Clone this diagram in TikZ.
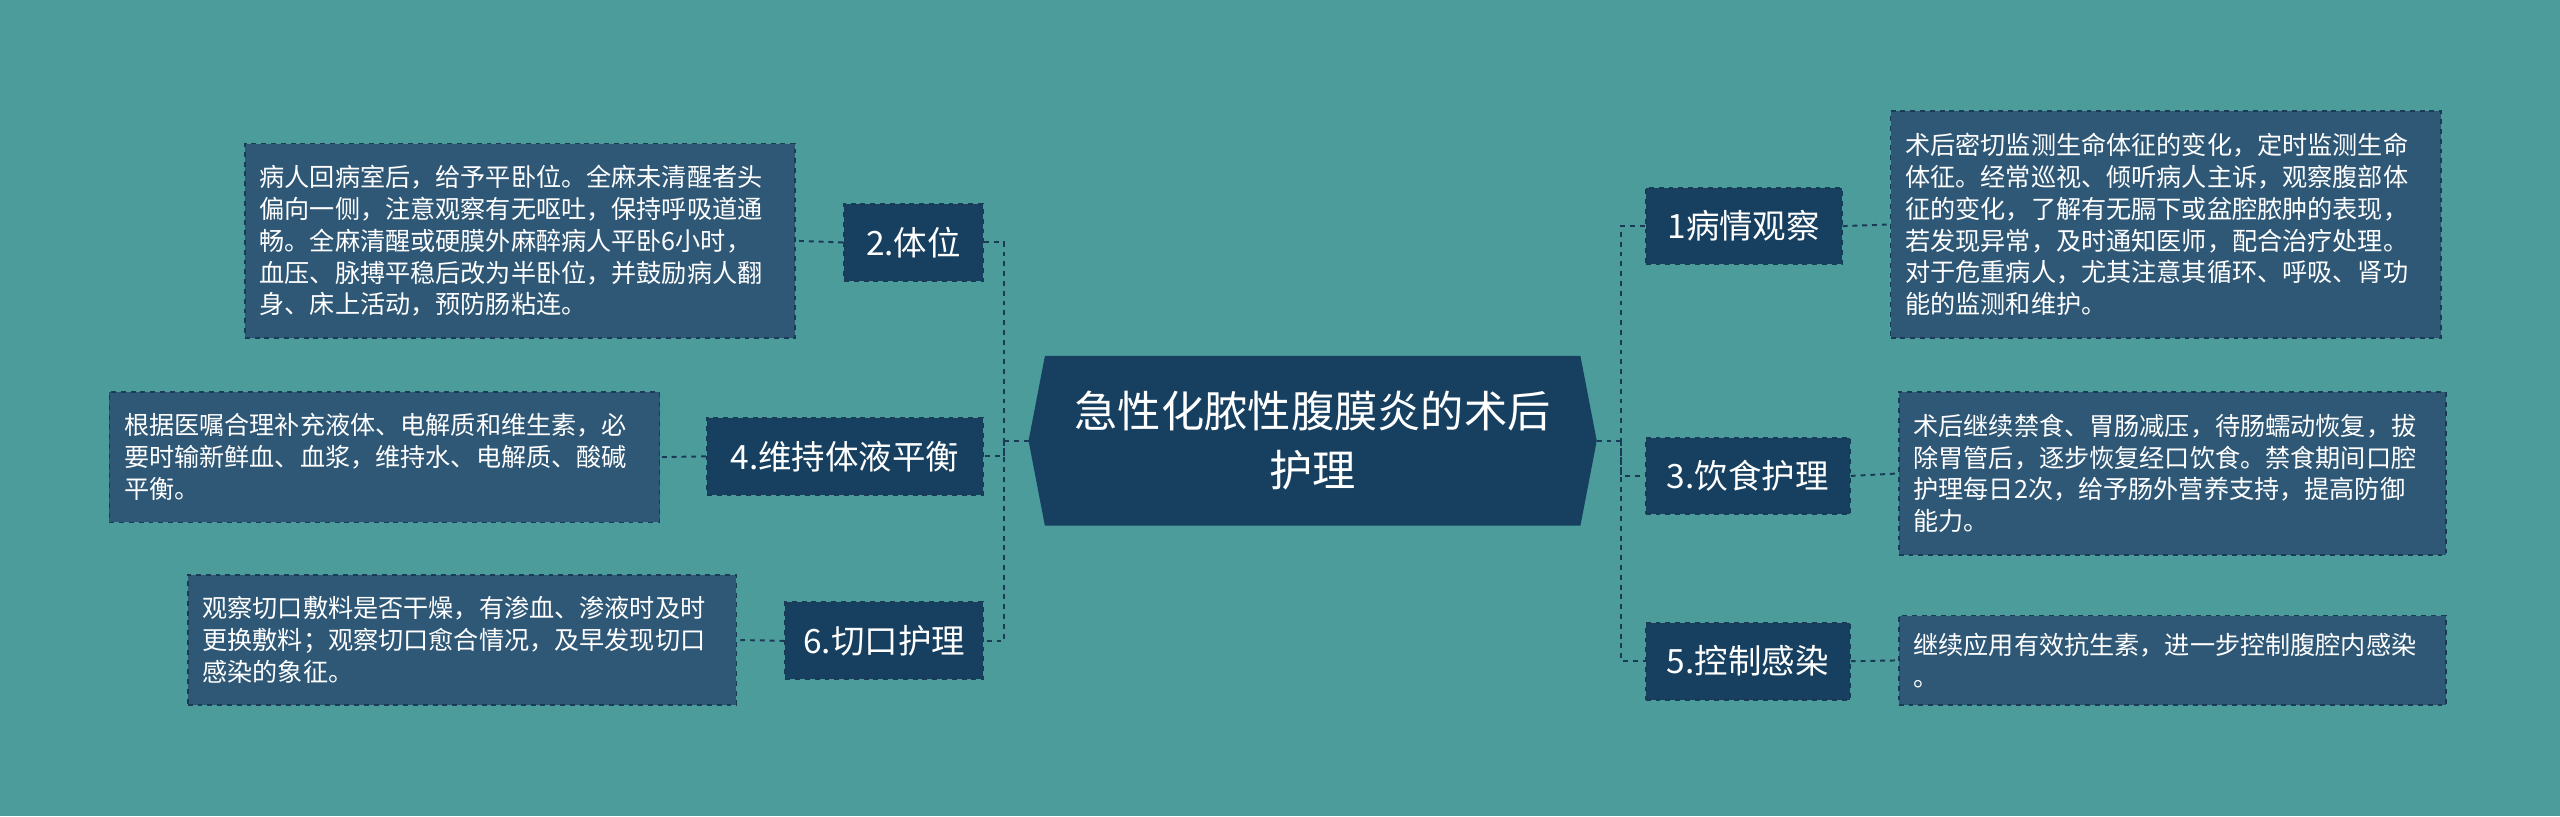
\documentclass[tikz,border=0pt]{standalone}
\usepackage{fontspec}
\setmainfont{Noto Sans CJK SC}
\begin{document}
\begin{tikzpicture}[x=1pt,y=-1pt,
 branch/.style={fill=brc,draw=edge,dashed,line width=1.2pt,text=white,font=\fontsize{20.5}{24}\selectfont,inner sep=0pt,minimum height=47pt,anchor=center},
 leaf/.style={fill=leafc,draw=edge,dashed,line width=1pt,text=white,font=\fontsize{15.4}{19.5}\selectfont,align=left,inner xsep=9pt,inner ysep=0pt,anchor=center}]
\definecolor{bg}{HTML}{4C9C9C}
\definecolor{brc}{HTML}{173F5F}
\definecolor{leafc}{HTML}{2F5877}
\definecolor{edge}{HTML}{1A3A55}
\fill[bg] (0,0) rectangle (1568,500);
\useasboundingbox (0,0) rectangle (1568,500);
% center
\fill[brc] (640,218) -- (968,218) -- (978,270) -- (968,322) -- (640,322) -- (630,270) -- cycle;
\node[text=white,font=\fontsize{26.5}{36}\selectfont,align=center] (c) at (804,270) {急性化脓性腹膜炎的术后\\护理};
\coordinate (cl) at (630,270); \coordinate (cr) at (978,270);
% right branches
\node[branch,minimum width=120pt] (r1) at (1068,138.5) {1病情观察};
\node[branch,minimum width=125pt] (r3) at (1070.5,291.5) {3.饮食护理};
\node[branch,minimum width=125pt] (r5) at (1070.5,405) {5.控制感染};
\node[leaf,text width=319pt,minimum height=139pt] (l1) at (1326.5,137.5) {术后密切监测生命体征的变化，定时监测生命\\体征。经常巡视、倾听病人主诉，观察腹部体\\征的变化，了解有无膈下或盆腔脓肿的表现，\\若发现异常，及时通知医师，配合治疗处理。\\对于危重病人，尤其注意其循环、呼吸、肾功\\能的监测和维护。};
\node[leaf,text width=317pt,minimum height=100pt] (l3) at (1330.5,290) {术后继续禁食、胃肠减压，待肠蠕动恢复，拔\\除胃管后，逐步恢复经口饮食。禁食期间口腔\\护理每日2次，给予肠外营养支持，提高防御\\能力。};
\node[leaf,text width=317pt,minimum height=55pt] (l5) at (1330.5,404.5) {继续应用有效抗生素，进一步控制腹腔内感染\\。};
% left branches
\node[branch,minimum width=85pt] (b2) at (559.5,148.5) {2.体位};
\node[branch,minimum width=169pt] (b4) at (517.5,279.5) {4.维持体液平衡};
\node[branch,minimum width=121pt] (b6) at (541.5,392.5) {6.切口护理};
\node[leaf,text width=319pt,minimum height=119pt] (p2) at (318.5,147.5) {病人回病室后，给予平卧位。全麻未清醒者头\\偏向一侧，注意观察有无呕吐，保持呼吸道通\\畅。全麻清醒或硬膜外麻醉病人平卧6小时，\\血压、脉搏平稳后改为半卧位，并鼓励病人翻\\身、床上活动，预防肠粘连。};
\node[leaf,text width=319pt,minimum height=80pt] (p4) at (235.5,280) {根据医嘱合理补充液体、电解质和维生素，必\\要时输新鲜血、血浆，维持水、电解质、酸碱\\平衡。};
\node[leaf,text width=318pt,minimum height=80pt] (p6) at (283,392) {观察切口敷料是否干燥，有渗血、渗液时及时\\更换敷料；观察切口愈合情况，及早发现切口\\感染的象征。};
% connectors
\begin{scope}[draw=edge,dashed,line width=1.2pt]
\draw (cr) -- (993,270);
\draw (r1.west) -| (993,270) |- (r5.west);
\draw (993,270) |- (r3.west);
\draw (r1.east) -- (l1.west);
\draw (r3.east) -- (l3.west);
\draw (r5.east) -- (l5.west);
\draw (cl) -- (615,270);
\draw (b2.east) -| (615,270) |- (b6.east);
\draw (615,270) |- (b4.east);
\draw (b2.west) -- (p2.east);
\draw (b4.west) -- (p4.east);
\draw (b6.west) -- (p6.east);
\end{scope}
\end{tikzpicture}
\end{document}
